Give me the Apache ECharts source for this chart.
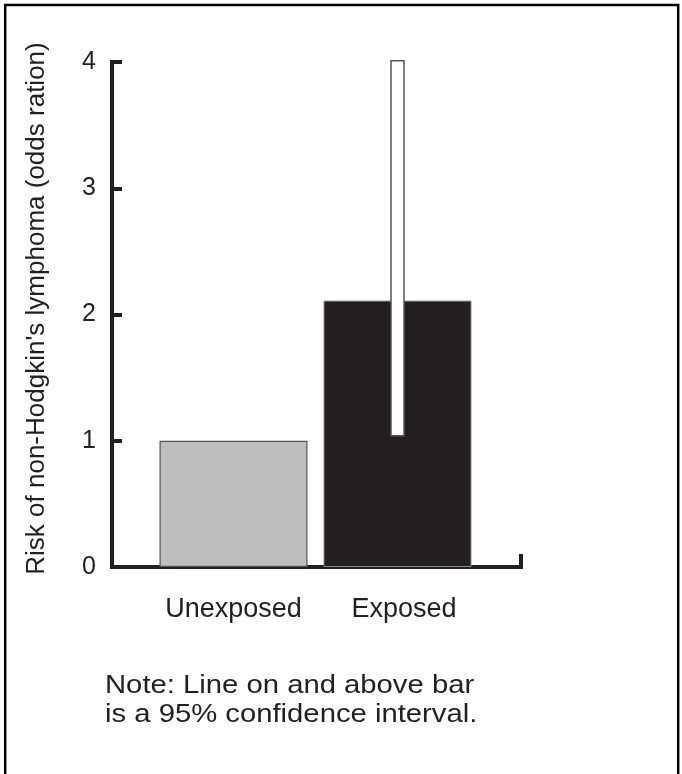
<!DOCTYPE html>
<html>
<head>
<meta charset="utf-8">
<script src="https://cdn.jsdelivr.net/npm/echarts@6/dist/echarts.min.js"></script>
<style>
html,body{margin:0;padding:0;background:#fff;}
#chart{width:682px;height:774px;}
</style>
</head>
<body>
<div id="chart"></div>
<script>
// ---- data ----
const categories = ['Unexposed', 'Exposed'];
const oddsRatio = [1.0, 2.11];
const ciLower = [null, 1.04];
const ciUpper = [null, 4.01];
const yTicks = [0, 1, 2, 3, 4];
const yTitle = "Risk of non-Hodgkin's lymphoma (odds ration)";
const noteText = 'Note: Line on and above bar\nis a 95% confidence interval.';

const FONT = "'Liberation Sans', Arial, Helvetica, sans-serif";
const INK = '#231f20';

const ciData = [];
categories.forEach((c, i) => {
  if (ciLower[i] != null) ciData.push([i, ciLower[i], ciUpper[i]]);
});

const chart = echarts.init(document.getElementById('chart'), null, {renderer: 'canvas'});
chart.setOption({
  backgroundColor: '#ffffff',
  animation: false,
  grid: [
    {left: 112, right: 161, top: 62, bottom: 207},      // axes frame
    {left: 151.5, right: 202.5, top: 62, bottom: 207}   // bars
  ],
  xAxis: [
    {
      gridIndex: 0, type: 'value', min: 0, max: 1, interval: 1,
      axisLine: {show: true, lineStyle: {color: INK, width: 4, cap: 'square'}},
      axisTick: {show: true, inside: true, length: 13, lineStyle: {color: INK, width: 4}},
      axisLabel: {show: false},
      splitLine: {show: false}
    },
    {
      gridIndex: 1, type: 'category', data: categories.map((c, i) => i === 1 ? {value: c, textStyle: {padding: [0, 0, 0, 13]}} : c),
      axisLine: {show: false},
      axisTick: {show: false},
      axisLabel: {show: true, color: INK, fontFamily: FONT, fontSize: 27, margin: 29, interval: 0}
    }
  ],
  yAxis: [
    {
      gridIndex: 0, type: 'value', min: yTicks[0], max: yTicks[yTicks.length - 1], interval: 1,
      axisLine: {show: true, lineStyle: {color: INK, width: 4, cap: 'square'}},
      axisTick: {show: true, inside: true, length: 10, lineStyle: {color: INK, width: 4}},
      axisLabel: {show: true, color: INK, fontFamily: FONT, fontSize: 25, margin: 16},
      splitLine: {show: false},
      name: yTitle,
      nameLocation: 'middle',
      nameRotate: 90,
      nameGap: 62,
      nameTextStyle: {color: INK, fontFamily: FONT, fontSize: 26, padding: [0, 0, 0, 12]}
    },
    {
      gridIndex: 1, type: 'value', min: yTicks[0], max: yTicks[yTicks.length - 1], show: false
    }
  ],
  series: [
    {
      type: 'bar', xAxisIndex: 1, yAxisIndex: 1, barWidth: 148,
      data: oddsRatio.map((v, i) => ({
        value: v,
        itemStyle: i === 0
          ? {color: '#bdbec0', borderColor: '#555', borderWidth: 1.2}
          : {color: INK, borderColor: '#8a8a8a', borderWidth: 1}
      })),
      z: 2
    },
    {
      type: 'custom', xAxisIndex: 1, yAxisIndex: 1,
      data: ciData,
      z: 3,
      renderItem: function (params, api) {
        const lo = api.coord([api.value(0), api.value(1)]);
        const hi = api.coord([api.value(0), api.value(2)]);
        const w = 13;
        return {
          type: 'rect',
          shape: {x: lo[0] - w / 2, y: hi[1], width: w, height: lo[1] - hi[1]},
          style: {fill: '#ffffff', stroke: '#555', lineWidth: 1.5}
        };
      }
    }
  ],
  graphic: [
    {
      type: 'rect', z: 10, silent: true,
      shape: {x: 5.2, y: 5, width: 673, height: 800},
      style: {fill: 'none', stroke: '#000', lineWidth: 2.5}
    },
    {
      type: 'text', left: 105, top: 672, z: 10, scaleX: 1.17,
      style: {text: noteText, fill: INK, font: '25px ' + FONT, lineHeight: 29}
    }
  ]
});
</script>
</body>
</html>
